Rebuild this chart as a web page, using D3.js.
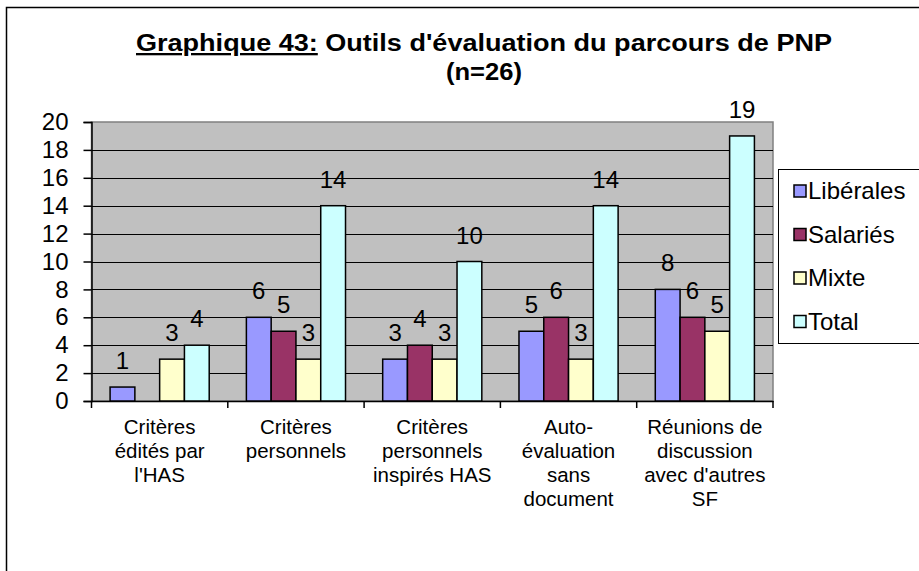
<!DOCTYPE html>
<html>
<head>
<meta charset="utf-8">
<script src="https://cdn.jsdelivr.net/npm/d3@7"></script>
<style>
  html, body { margin: 0; padding: 0; background: #fff; }
  svg { display: block; font-family: "Liberation Sans", Arial, sans-serif; }
</style>
</head>
<body>
<svg id="chart" width="919" height="571"></svg>
<script>
const categories = [
  ["Critères", "édités par", "l'HAS"],
  ["Critères", "personnels"],
  ["Critères", "personnels", "inspirés HAS"],
  ["Auto-", "évaluation", "sans", "document"],
  ["Réunions de", "discussion", "avec d'autres", "SF"]
];
const seriesNames = ["Libérales", "Salariés", "Mixte", "Total"];
const liberales = [1, 6, 3, 5, 8];
const salaries = [0, 5, 4, 6, 6];
const mixte = [3, 3, 3, 3, 5];
const total = [4, 14, 10, 14, 19];
const yTicks = [0, 2, 4, 6, 8, 10, 12, 14, 16, 18, 20];
const titleMain = "Graphique 43:";
const titleRest = " Outils d'évaluation du parcours de PNP";
const subtitle = "(n=26)";

const seriesValues = [liberales, salaries, mixte, total];
const colors = ["#9999FF", "#993366", "#FFFFCC", "#CCFFFF"];

const svg = d3.select("#chart");

// outer frame
svg.append("rect").attr("x", 6.5).attr("y", 7.5).attr("width", 1000).attr("height", 1000)
  .attr("fill", "none").attr("stroke", "#000").attr("stroke-width", 1.5);

// title
const t = svg.append("text").attr("x", 484).attr("y", 51).attr("text-anchor", "middle")
  .attr("font-weight", "bold").attr("font-size", 23)
  .attr("textLength", 696).attr("lengthAdjust", "spacingAndGlyphs");
t.append("tspan").attr("text-decoration", "underline").text(titleMain);
t.append("tspan").text(titleRest);
svg.append("text").attr("x", 484).attr("y", 80).attr("text-anchor", "middle")
  .attr("font-weight", "bold").attr("font-size", 23)
  .attr("textLength", 76).attr("lengthAdjust", "spacingAndGlyphs").text(subtitle);

const plotL = 91.5, plotR = 773, plotT = 122, plotB = 401;

const y = d3.scaleLinear().domain([0, 20]).range([plotB, plotT]);
const x0 = d3.scaleBand().domain(d3.range(categories.length)).range([plotL, plotR]).padding(0);
const bw = x0.bandwidth();
const gap = bw * 0.75 / 5.5;
const x1 = d3.scaleBand().domain(d3.range(seriesNames.length)).range([gap, bw - gap]).padding(0);

// plot background
svg.append("rect").attr("x", plotL).attr("y", plotT).attr("width", plotR - plotL).attr("height", plotB - plotT)
  .attr("fill", "#C0C0C0").attr("stroke", "#808080").attr("stroke-width", 1.5);

// gridlines
svg.append("g").selectAll("line").data(yTicks.filter(d => d > 0 && d < 20)).join("line")
  .attr("x1", plotL).attr("x2", plotR)
  .attr("y1", d => Math.round(y(d)) + 0.5).attr("y2", d => Math.round(y(d)) + 0.5)
  .attr("stroke", "#000").attr("stroke-width", 1.2);

// y axis
const yAxis = d3.axisLeft(y).tickValues(yTicks).tickSize(8).tickPadding(15);
const gy = svg.append("g").attr("transform", `translate(${plotL},0)`).call(yAxis);
gy.select(".domain").attr("stroke", "#000").attr("stroke-width", 1.5);
gy.selectAll(".tick line").attr("stroke", "#000").attr("stroke-width", 1.5);
gy.selectAll(".tick text").attr("font-size", 24).attr("fill", "#000")
  .attr("font-family", "'Liberation Sans', Arial, sans-serif");

// x axis
const bounds = d3.range(categories.length + 1).map(i => i < categories.length ? x0(i) : plotR);
const xAxis = d3.axisBottom(x0).tickSize(0).tickFormat("");
const gx = svg.append("g").attr("transform", `translate(0,${plotB})`).call(xAxis);
gx.select(".domain").attr("stroke", "#000").attr("stroke-width", 1.5);
gx.selectAll(".tick").remove();
gx.selectAll("line.b").data(bounds).join("line").attr("class", "b")
  .attr("x1", d => d).attr("x2", d => d).attr("y1", 0).attr("y2", 7)
  .attr("stroke", "#000").attr("stroke-width", 1.5);

// category labels
const cl = svg.append("g").selectAll("text").data(categories).join("text")
  .attr("text-anchor", "middle").attr("font-size", 20.5).attr("fill", "#000");
cl.each(function(lines, i) {
  d3.select(this).selectAll("tspan").data(lines).join("tspan")
    .attr("x", x0(i) + bw / 2).attr("y", (d, j) => 434 + j * 24).text(d => d);
});

// bars
const groups = svg.append("g").selectAll("g").data(categories).join("g")
  .attr("transform", (d, i) => `translate(${x0(i)},0)`);
groups.selectAll("rect").data((d, i) => seriesValues.map((s, k) => ({k, v: s[i]})))
  .join("rect")
  .filter(d => d.v > 0)
  .attr("x", d => x1(d.k)).attr("width", x1.bandwidth())
  .attr("y", d => y(d.v)).attr("height", d => y(0) - y(d.v))
  .attr("fill", d => colors[d.k]).attr("stroke", "#000").attr("stroke-width", 1.5);
groups.selectAll("text").data((d, i) => seriesValues.map((s, k) => ({k, v: s[i]})).filter(d => d.v > 0))
  .join("text")
  .attr("x", d => x1(d.k) + x1.bandwidth() / 2).attr("y", d => y(d.v) - 18)
  .attr("text-anchor", "middle").attr("font-size", 24).attr("fill", "#000").text(d => d.v);

// legend
svg.append("rect").attr("x", 778.5).attr("y", 169.5).attr("width", 200).attr("height", 174)
  .attr("fill", "#fff").attr("stroke", "#000").attr("stroke-width", 1);
const lg = svg.append("g").selectAll("g").data(seriesNames).join("g")
  .attr("transform", (d, i) => `translate(0,${191 + i * 43.5})`);
lg.append("rect").attr("x", 794).attr("y", -6).attr("width", 12).attr("height", 12)
  .attr("fill", (d, i) => colors[i]).attr("stroke", "#000").attr("stroke-width", 1.5);
lg.append("text").attr("x", 808).attr("y", 8).attr("font-size", 24).attr("fill", "#000").text(d => d);
</script>
</body>
</html>
